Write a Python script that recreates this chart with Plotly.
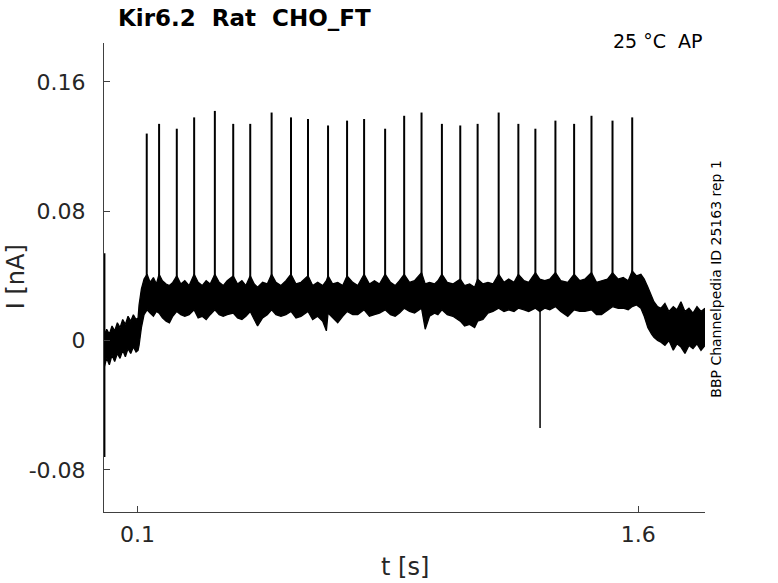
import plotly.graph_objects as go

# Kir6.2 Rat CHO_FT, protocolo AP a 25 °C
# picos dos potenciais de ação
spike_t = [0.128, 0.165, 0.218, 0.270, 0.332, 0.387, 0.438, 0.502, 0.560, 0.611,
           0.671, 0.728, 0.779, 0.842, 0.899, 0.951, 1.012, 1.067, 1.119, 1.182,
           1.241, 1.292, 1.352, 1.408, 1.460, 1.523, 1.582]
spike_peak = [0.128, 0.134, 0.131, 0.138, 0.142, 0.134, 0.134, 0.141, 0.138, 0.137,
              0.133, 0.136, 0.137, 0.131, 0.139, 0.141, 0.134, 0.133, 0.134, 0.141,
              0.134, 0.131, 0.136, 0.134, 0.139, 0.136, 0.138]
spike_onset = 0.03

# artefato negativo
dip_t = [1.306]
dip_min = [-0.054]
dip_onset = 0.02

# transiente no início do registro
onset_t = [0.002]
onset_hi = [0.054]
onset_lo = [-0.072]

# envelope do ruído (limite superior / inferior)
env_t = [0.000, 0.008, 0.016, 0.024, 0.032, 0.040, 0.048, 0.056, 0.064, 0.072,
         0.080, 0.088, 0.096, 0.102, 0.105, 0.112, 0.120,
         0.129, 0.138, 0.148, 0.157, 0.165, 0.175, 0.186, 0.196, 0.206, 0.218,
         0.230, 0.242, 0.255, 0.270, 0.282, 0.294, 0.306, 0.318, 0.332, 0.345,
         0.357, 0.369, 0.387, 0.400, 0.413, 0.425, 0.438, 0.450, 0.460, 0.475,
         0.489, 0.502, 0.515, 0.530, 0.545, 0.560, 0.575, 0.590, 0.611, 0.625,
         0.640, 0.655, 0.666, 0.671, 0.685, 0.700, 0.715, 0.728, 0.745, 0.760,
         0.779, 0.795, 0.810, 0.825, 0.842, 0.858, 0.872, 0.885, 0.899, 0.915,
         0.930, 0.951, 0.962, 0.975, 0.990, 1.000, 1.012, 1.028, 1.045, 1.067,
         1.080, 1.095, 1.110, 1.119, 1.135, 1.150, 1.165, 1.182, 1.198, 1.212,
         1.228, 1.241, 1.258, 1.272, 1.292, 1.305, 1.320, 1.335, 1.352, 1.368,
         1.389, 1.408, 1.425, 1.440, 1.460, 1.475, 1.490, 1.508, 1.523, 1.540,
         1.555, 1.570, 1.582, 1.595, 1.608, 1.618, 1.629, 1.640, 1.647, 1.658,
         1.668, 1.680, 1.692, 1.705, 1.716, 1.728, 1.740, 1.752, 1.764, 1.776,
         1.788, 1.800]
env_hi = [0.003, 0.007, 0.004, 0.009, 0.006, 0.011, 0.008, 0.013, 0.010, 0.015,
          0.012, 0.016, 0.013, 0.014, 0.022, 0.032, 0.038,
          0.041, 0.036, 0.039, 0.035, 0.041, 0.037, 0.035, 0.034, 0.036, 0.040,
          0.035, 0.037, 0.034, 0.041, 0.036, 0.034, 0.037, 0.035, 0.041, 0.036,
          0.034, 0.037, 0.040, 0.035, 0.037, 0.034, 0.040, 0.035, 0.033, 0.036,
          0.035, 0.041, 0.036, 0.034, 0.037, 0.041, 0.035, 0.036, 0.040, 0.034,
          0.036, 0.034, 0.037, 0.040, 0.035, 0.036, 0.034, 0.040, 0.036, 0.034,
          0.041, 0.035, 0.037, 0.035, 0.041, 0.036, 0.034, 0.037, 0.041, 0.036,
          0.037, 0.042, 0.035, 0.036, 0.035, 0.037, 0.041, 0.036, 0.035, 0.038,
          0.034, 0.035, 0.033, 0.038, 0.035, 0.036, 0.035, 0.041, 0.036, 0.038,
          0.036, 0.041, 0.037, 0.036, 0.042, 0.038, 0.037, 0.038, 0.042, 0.037,
          0.036, 0.041, 0.037, 0.038, 0.042, 0.036, 0.037, 0.038, 0.042, 0.038,
          0.039, 0.037, 0.043, 0.040, 0.041, 0.038, 0.033, 0.028, 0.024, 0.021,
          0.020, 0.023, 0.018, 0.021, 0.019, 0.024, 0.018, 0.020, 0.017, 0.021,
          0.018, 0.020]
env_lo = [-0.017, -0.011, -0.015, -0.009, -0.013, -0.008, -0.011, -0.006, -0.010, -0.005,
          -0.008, -0.004, -0.007, -0.006, -0.003, 0.008, 0.016,
          0.019, 0.017, 0.015, 0.018, 0.017, 0.014, 0.012, 0.011, 0.015, 0.018,
          0.016, 0.015, 0.016, 0.019, 0.014, 0.015, 0.013, 0.016, 0.019, 0.016,
          0.015, 0.016, 0.017, 0.014, 0.013, 0.015, 0.018, 0.013, 0.009, 0.014,
          0.016, 0.019, 0.016, 0.015, 0.016, 0.018, 0.014, 0.015, 0.018, 0.013,
          0.015, 0.012, 0.006, 0.017, 0.014, 0.011, 0.015, 0.018, 0.016, 0.016,
          0.019, 0.015, 0.016, 0.017, 0.019, 0.016, 0.015, 0.017, 0.020, 0.018,
          0.017, 0.020, 0.007, 0.015, 0.017, 0.016, 0.019, 0.016, 0.015, 0.012,
          0.009, 0.010, 0.008, 0.012, 0.013, 0.017, 0.018, 0.020, 0.018, 0.019,
          0.018, 0.020, 0.019, 0.018, 0.020, 0.018, 0.020, 0.019, 0.021, 0.018,
          0.015, 0.019, 0.018, 0.018, 0.019, 0.016, 0.016, 0.019, 0.021, 0.020,
          0.020, 0.019, 0.021, 0.022, 0.020, 0.015, 0.008, 0.004, 0.002, 0.000,
          -0.001, -0.003, 0.000, -0.006, -0.002, -0.004, -0.008, -0.003, -0.005, -0.002,
          -0.006, -0.003]

x_ticks = [0.1, 1.6]
x_ticktext = ["0.1", "1.6"]
y_ticks = [-0.08, 0, 0.08, 0.16]
y_ticktext = ["-0.08", "0", "0.08", "0.16"]

FONT = "DejaVu Sans"
TXT = "#262626"

fig = go.Figure()

# banda de ruído
fig.add_trace(go.Scatter(x=env_t, y=env_lo, mode="lines",
                         line=dict(color="black", width=1.3), hoverinfo="skip"))
fig.add_trace(go.Scatter(x=env_t, y=env_hi, mode="lines", fill="tonexty",
                         fillcolor="black", line=dict(color="black", width=1.3),
                         hoverinfo="skip"))

# picos
sx, sy = [], []
for t, p in zip(spike_t, spike_peak):
    sx += [t, t, None]
    sy += [spike_onset, p, None]
fig.add_trace(go.Scatter(x=sx, y=sy, mode="lines", line=dict(color="black", width=2)))

dx, dy = [], []
for t, m in zip(dip_t, dip_min):
    dx += [t, t, None]
    dy += [dip_onset, m, None]
fig.add_trace(go.Scatter(x=dx, y=dy, mode="lines", line=dict(color="black", width=1.5)))

ox, oy = [], []
for t, a, b in zip(onset_t, onset_hi, onset_lo):
    ox += [t, t, None]
    oy += [a, b, None]
fig.add_trace(go.Scatter(x=ox, y=oy, mode="lines", line=dict(color="black", width=1.5)))

fig.update_layout(
    width=778, height=583,
    margin=dict(l=104, r=73, t=43, b=71),
    paper_bgcolor="white", plot_bgcolor="white",
    showlegend=False,
    font=dict(family=FONT, color=TXT),
)
fig.update_xaxes(range=[0, 1.8], tickvals=x_ticks, ticktext=x_ticktext,
                 ticks="inside", ticklen=6, tickcolor="#404040",
                 showline=True, linecolor="#404040", linewidth=1,
                 showgrid=False, zeroline=False, tickfont=dict(size=22, color=TXT),
                 ticklabelstandoff=3)
fig.update_yaxes(range=[-0.106, 0.184], tickvals=y_ticks, ticktext=y_ticktext,
                 ticks="inside", ticklen=6, tickcolor="#404040",
                 showline=True, linecolor="#404040", linewidth=1,
                 showgrid=False, zeroline=False, tickfont=dict(size=22, color=TXT),
                 ticklabelstandoff=13)

fig.add_annotation(text="<b>Kir6.2  Rat  CHO_FT</b>", xref="paper", yref="paper",
                   x=0.02, y=1.054, xanchor="left", yanchor="middle",
                   showarrow=False, font=dict(size=23, color="black"))
fig.add_annotation(text="25 °C  AP", xref="paper", yref="paper",
                   x=1.0, y=1.005, xanchor="right", yanchor="middle",
                   showarrow=False, font=dict(size=19, color="black"))
fig.add_annotation(text="BBP Channelpedia ID 25163 rep 1", xref="paper", yref="paper",
                   x=1.018, y=0.497, xanchor="center", yanchor="middle", textangle=-90,
                   showarrow=False, font=dict(size=14, color="black"))
fig.add_annotation(text="I [nA]", xref="paper", yref="paper",
                   x=-0.147, y=0.502, xanchor="center", yanchor="middle", textangle=-90,
                   showarrow=False, font=dict(size=24, color=TXT))
fig.add_annotation(text="t [s]", xref="paper", yref="paper",
                   x=0.5, y=-0.117, xanchor="center", yanchor="middle",
                   showarrow=False, font=dict(size=24, color=TXT))

# tira a margem padrão de 8 px do body para a figura ocupar a janela toda
fig.write_html("out.html", config={"displayModeBar": False},
               post_script="document.body.style.margin = '0';")
